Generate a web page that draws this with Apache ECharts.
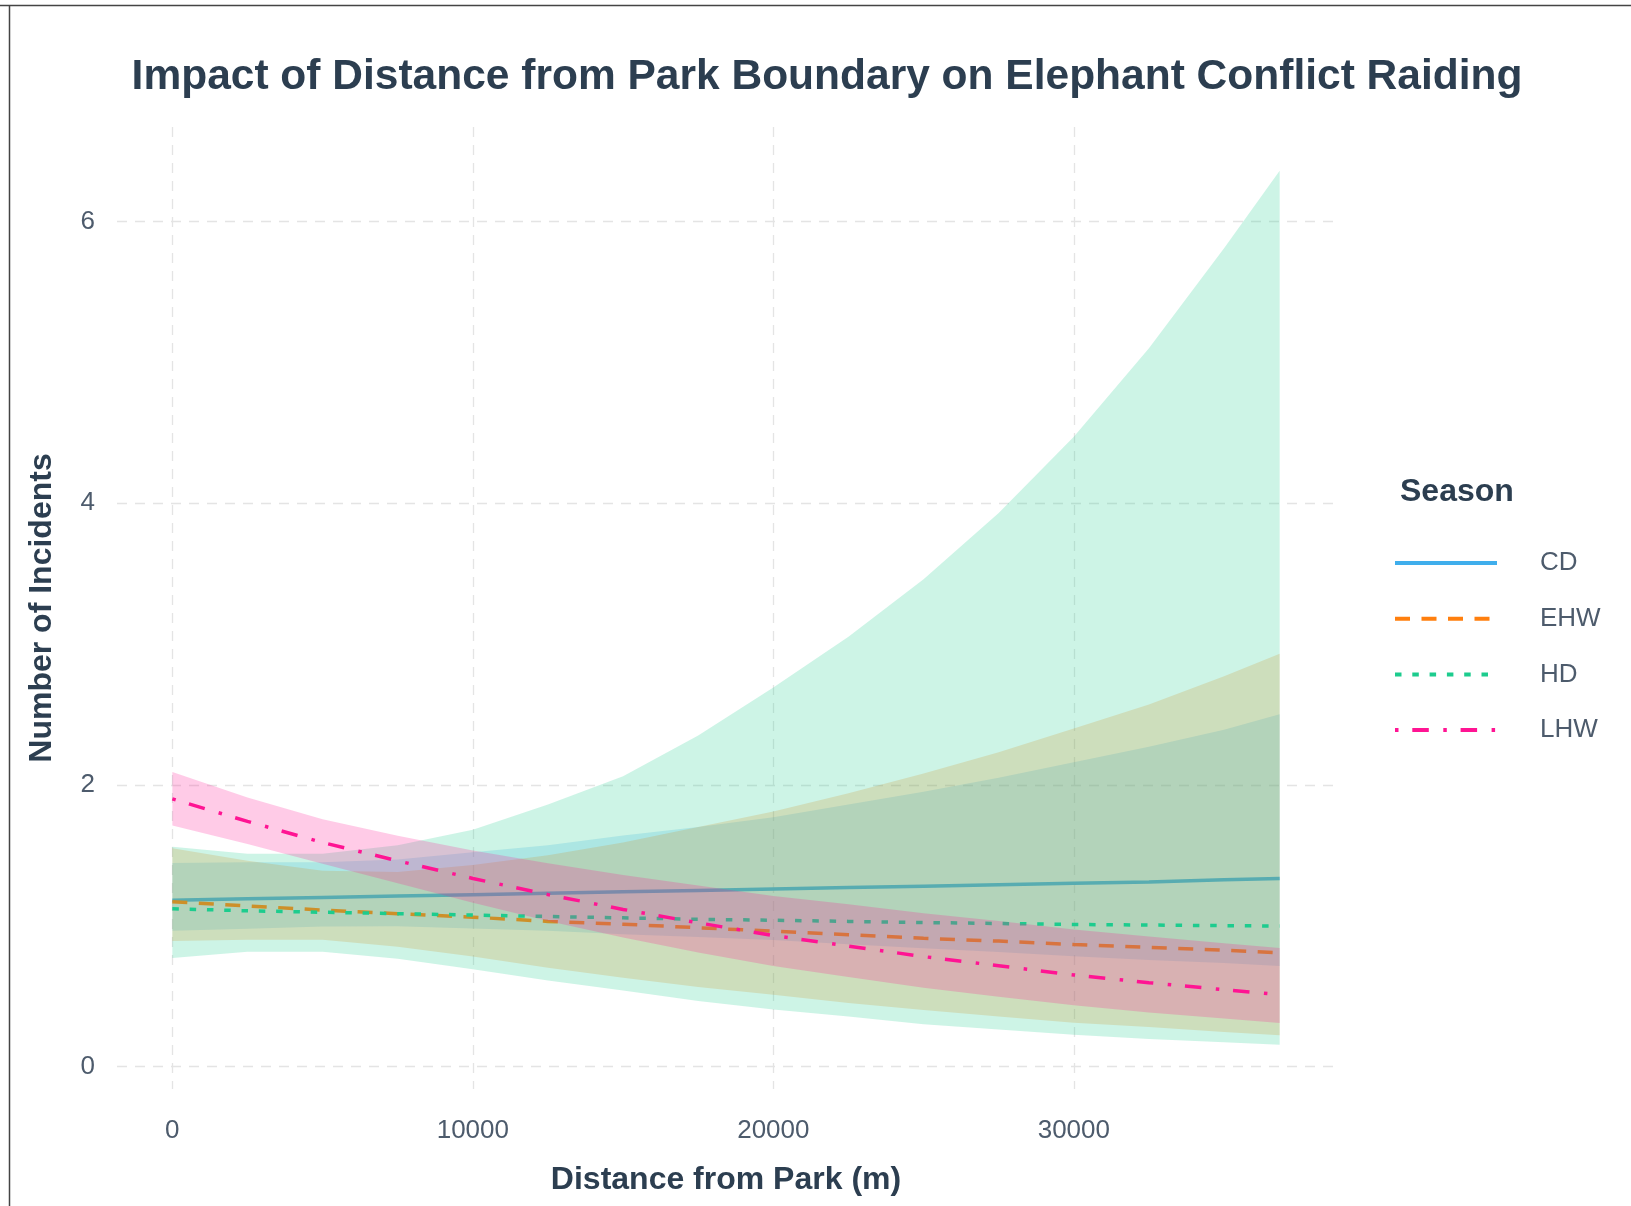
<!DOCTYPE html>
<html>
<head>
<meta charset="UTF-8"/>
<title>Elephant Conflict Raiding</title>
<script src="https://cdn.jsdelivr.net/npm/echarts@6.0.0/dist/echarts.min.js"></script>
</head>
<body style="margin:0;background:#ffffff;">
<div id="main" style="width:1631px;height:1206px;"></div>
<script>
// distance from park boundary (m)
var distance = [0, 2500, 5000, 7500, 10000, 12500, 15000, 17500, 20000, 22500, 25000, 27500, 30000, 32500, 35000, 36850];

// fitted incidents + ribbon bounds, per season
var cdFit   = [1.18, 1.19, 1.20, 1.21, 1.22, 1.23, 1.24, 1.25, 1.26, 1.27, 1.28, 1.29, 1.30, 1.31, 1.325, 1.335];
var cdHigh  = [1.445, 1.45, 1.45, 1.47, 1.52, 1.57, 1.64, 1.70, 1.77, 1.86, 1.95, 2.05, 2.16, 2.27, 2.39, 2.50];
var cdLow   = [0.964, 0.977, 0.993, 0.996, 0.979, 0.964, 0.938, 0.919, 0.897, 0.867, 0.84, 0.812, 0.782, 0.756, 0.735, 0.713];

var ehwFit  = [1.17, 1.14, 1.11, 1.085, 1.06, 1.03, 1.01, 0.985, 0.96, 0.935, 0.91, 0.89, 0.866, 0.845, 0.825, 0.807];
var ehwHigh = [1.55, 1.46, 1.39, 1.38, 1.43, 1.50, 1.59, 1.70, 1.81, 1.94, 2.08, 2.23, 2.40, 2.57, 2.77, 2.93];
var ehwLow  = [0.89, 0.90, 0.90, 0.85, 0.78, 0.70, 0.63, 0.565, 0.51, 0.45, 0.40, 0.355, 0.31, 0.28, 0.245, 0.222];

var hdFit   = [1.12, 1.105, 1.095, 1.085, 1.075, 1.065, 1.055, 1.045, 1.038, 1.03, 1.022, 1.015, 1.008, 1.004, 1.0, 0.997];
var hdHigh  = [1.56, 1.51, 1.51, 1.57, 1.68, 1.86, 2.06, 2.35, 2.69, 3.05, 3.46, 3.93, 4.47, 5.10, 5.81, 6.36];
var hdLow   = [0.77, 0.815, 0.815, 0.765, 0.69, 0.61, 0.54, 0.465, 0.405, 0.355, 0.30, 0.262, 0.225, 0.195, 0.172, 0.155];

var lhwFit  = [1.90, 1.74, 1.59, 1.46, 1.335, 1.22, 1.115, 1.02, 0.93, 0.855, 0.78, 0.715, 0.65, 0.595, 0.545, 0.51];
var lhwHigh = [2.09, 1.91, 1.756, 1.638, 1.534, 1.442, 1.359, 1.284, 1.211, 1.152, 1.088, 1.033, 0.972, 0.922, 0.875, 0.841];
var lhwLow  = [1.71, 1.58, 1.44, 1.301, 1.162, 1.032, 0.915, 0.81, 0.714, 0.635, 0.559, 0.495, 0.434, 0.384, 0.34, 0.309];

var seasons = ['CD', 'EHW', 'HD', 'LHW'];

var seasonData = [
    {fit: cdFit, high: cdHigh, low: cdLow, color: '#3FAEEC', dash: 'solid'},
    {fit: ehwFit, high: ehwHigh, low: ehwLow, color: '#FF7F0E', dash: [15, 11.5]},
    {fit: hdFit, high: hdHigh, low: hdLow, color: '#1DCC8E', dash: [6.5, 10.8]},
    {fit: lhwFit, high: lhwHigh, low: lhwLow, color: '#FF1493', dash: [3.5, 13.8, 16.5, 14.5]}
];

function pairs(ys) {
    return distance.map(function (d, i) { return [d, ys[i]]; });
}

// confidence band drawn as one polygon through the axis scales
function ribbon(name, s, z) {
    return {
        name: name + ' ribbon',
        type: 'custom',
        silent: true,
        clip: true,
        z: z,
        data: [[distance[0], s.fit[0]]],
        renderItem: function (params, api) {
            var pts = [];
            for (var i = 0; i < distance.length; i++) pts.push(api.coord([distance[i], s.high[i]]));
            for (var j = distance.length - 1; j >= 0; j--) pts.push(api.coord([distance[j], s.low[j]]));
            return {
                type: 'polygon',
                shape: {points: pts},
                style: {fill: s.color, opacity: 0.22}
            };
        }
    };
}

var series = [];
seasons.forEach(function (name, k) {
    var s = seasonData[k];
    series.push(ribbon(name, s, 2 + 2 * k));
    series.push({
        name: name,
        type: 'line',
        z: 3 + 2 * k,
        data: pairs(s.fit),
        symbol: 'none',
        showSymbol: false,
        silent: true,
        itemStyle: {color: s.color},
        lineStyle: {color: s.color, width: 3.5, type: s.dash}
    });
});

var myChart = echarts.init(document.getElementById('main'));
var gridLine = {show: true, showMinLine: false, showMaxLine: false,
    lineStyle: {color: '#e4e4e4', width: 1.3, type: [10, 8]}};
var tickFont = {fontFamily: 'Liberation Sans', fontSize: 26, color: '#4d5b6c'};

option = {
    animation: false,
    backgroundColor: '#ffffff',
    title: [
        {
            text: 'Impact of Distance from Park Boundary on Elephant Conflict Raiding',
            left: 827,
            top: 56,
            textAlign: 'center',
            padding: 0,
            textStyle: {fontFamily: 'Liberation Sans', fontSize: 42.5, fontWeight: 'bold', color: '#2C3E50'}
        },
        {
            text: 'Season',
            left: 1400,
            top: 476,
            padding: 0,
            textStyle: {fontFamily: 'Liberation Sans', fontSize: 32, fontWeight: 'bold', color: '#2C3E50'}
        }
    ],
    legend: {
        data: seasons,
        orient: 'vertical',
        left: 1393,
        top: 550,
        padding: 0,
        itemWidth: 102,
        itemHeight: 30,
        itemGap: 29.7,
        selectedMode: false,
        itemStyle: {opacity: 0, borderWidth: 0},
        lineStyle: {width: 4},
        textStyle: {fontFamily: 'Liberation Sans', fontSize: 26, color: '#4d5b6c', padding: [0, 0, 0, 38]}
    },
    grid: {left: 117, right: 296, top: 127, bottom: 117, containLabel: false},
    xAxis: {
        type: 'value',
        min: -1842,
        max: 38692,
        minInterval: 10000,
        maxInterval: 10000,
        name: 'Distance from Park (m)',
        nameLocation: 'middle',
        nameGap: 75,
        nameTextStyle: {fontFamily: 'Liberation Sans', fontSize: 32, fontWeight: 'bold', color: '#2C3E50'},
        axisLine: {show: false, onZero: false},
        axisTick: {show: false},
        axisLabel: Object.assign({
            margin: 29, showMinLabel: false, showMaxLabel: false,
            formatter: function (v) { return String(v); }
        }, tickFont),
        splitLine: gridLine
    },
    yAxis: {
        type: 'value',
        min: -0.16,
        max: 6.67,
        minInterval: 2,
        maxInterval: 2,
        name: 'Number of Incidents',
        nameLocation: 'middle',
        nameGap: 59,
        nameTextStyle: {fontFamily: 'Liberation Sans', fontSize: 32, fontWeight: 'bold', color: '#2C3E50'},
        axisLine: {show: false, onZero: false},
        axisTick: {show: false},
        axisLabel: Object.assign({margin: 22, showMinLabel: false, showMaxLabel: false}, tickFont),
        splitLine: gridLine
    },
    graphic: [
        {type: 'line', shape: {x1: 0, y1: 5.5, x2: 1631, y2: 5.5}, style: {stroke: '#444444', lineWidth: 1.5}, silent: true},
        {type: 'line', shape: {x1: 9.5, y1: 5, x2: 9.5, y2: 1206}, style: {stroke: '#444444', lineWidth: 1.5}, silent: true}
    ],
    series: series
};
myChart.setOption(option);
</script>
</body>
</html>
